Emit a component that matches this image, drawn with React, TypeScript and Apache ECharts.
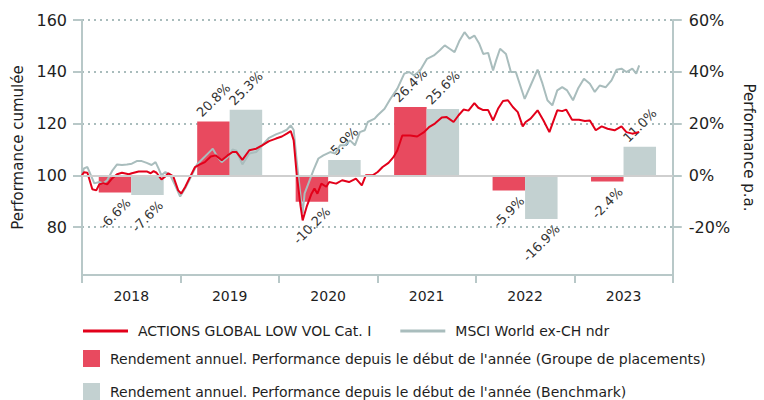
import React, { useEffect, useRef } from 'react';
import * as echarts from 'echarts';

const years = ['2018', '2019', '2020', '2021', '2022', '2023'];
const fundAnnual = [-6.6, 20.8, -10.2, 26.4, -5.9, -2.4];
const benchAnnual = [-7.6, 25.3, 5.9, 25.6, -16.9, 11.0];
const leftTicks = [80, 100, 120, 140, 160];
const rightTicks = [-20, 0, 20, 40, 60];

const FUND_LINE = 'ACTIONS GLOBAL LOW VOL Cat. I';
const BENCH_LINE = 'MSCI World ex-CH ndr';
const FUND_BAR = "Rendement annuel. Performance depuis le début de l'année (Groupe de placements)";
const BENCH_BAR = "Rendement annuel. Performance depuis le début de l'année (Benchmark)";

const fundCumulative: [number, number][] = [
  [2018.000, 100.0], [2018.020, 101.2], [2018.055, 101.0], [2018.105, 94.6], [2018.145, 94.2], [2018.175, 96.5],
  [2018.216, 97.0], [2018.256, 96.5], [2018.306, 98.8], [2018.356, 100.4], [2018.406, 101.0], [2018.476, 100.4],
  [2018.506, 100.8], [2018.576, 101.5], [2018.657, 101.5], [2018.697, 100.8], [2018.727, 101.6], [2018.757, 101.0],
  [2018.807, 98.4], [2018.847, 99.6], [2018.877, 100.8], [2018.927, 99.6], [2018.977, 94.2], [2019.008, 93.0],
  [2019.048, 95.5], [2019.098, 99.4], [2019.148, 103.2], [2019.198, 104.2], [2019.248, 105.1], [2019.308, 107.3],
  [2019.358, 107.7], [2019.419, 105.8], [2019.479, 107.7], [2019.529, 109.0], [2019.569, 109.0], [2019.629, 106.0],
  [2019.699, 109.7], [2019.769, 110.3], [2019.830, 111.6], [2019.900, 113.2], [2019.970, 114.2], [2020.030, 115.0],
  [2020.080, 116.1], [2020.120, 117.1], [2020.150, 113.5], [2020.180, 100.6], [2020.221, 87.8], [2020.241, 82.6],
  [2020.281, 87.8], [2020.331, 92.9], [2020.361, 94.9], [2020.391, 92.9], [2020.431, 96.8], [2020.481, 95.6],
  [2020.511, 97.4], [2020.581, 96.8], [2020.642, 98.1], [2020.712, 97.4], [2020.782, 98.7], [2020.842, 96.1],
  [2020.882, 100.0], [2020.952, 100.0], [2021.003, 101.3], [2021.053, 103.2], [2021.113, 104.8], [2021.163, 107.0],
  [2021.203, 109.7], [2021.253, 115.4], [2021.333, 115.4], [2021.404, 115.0], [2021.474, 116.7], [2021.524, 118.6],
  [2021.584, 120.0], [2021.654, 122.3], [2021.704, 122.5], [2021.774, 120.6], [2021.825, 123.2], [2021.875, 125.4],
  [2021.925, 125.0], [2021.985, 127.9], [2022.025, 126.1], [2022.075, 125.2], [2022.125, 125.2], [2022.175, 121.2],
  [2022.225, 125.7], [2022.276, 128.7], [2022.326, 129.0], [2022.376, 126.4], [2022.426, 124.4], [2022.476, 118.9],
  [2022.506, 120.6], [2022.556, 121.9], [2022.627, 125.1], [2022.687, 121.2], [2022.747, 116.7], [2022.827, 125.1],
  [2022.877, 124.8], [2022.917, 125.4], [2022.977, 121.5], [2023.048, 121.5], [2023.108, 121.0], [2023.158, 121.2],
  [2023.218, 117.4], [2023.278, 118.9], [2023.338, 118.0], [2023.409, 117.4], [2023.479, 118.9], [2023.529, 116.7],
  [2023.589, 116.1], [2023.659, 116.7],
];

const benchCumulative: [number, number][] = [
  [2018.000, 100.0], [2018.020, 102.7], [2018.055, 103.2], [2018.125, 96.9], [2018.175, 97.4], [2018.216, 96.9],
  [2018.256, 98.1], [2018.306, 101.7], [2018.356, 104.2], [2018.406, 104.0], [2018.456, 104.2], [2018.506, 104.5],
  [2018.556, 105.5], [2018.607, 105.5], [2018.657, 104.8], [2018.707, 104.0], [2018.747, 105.1], [2018.777, 102.7],
  [2018.807, 100.0], [2018.847, 101.3], [2018.897, 100.0], [2018.947, 96.0], [2018.997, 91.8], [2019.048, 95.0],
  [2019.098, 98.8], [2019.168, 104.2], [2019.228, 106.5], [2019.278, 108.4], [2019.328, 110.3], [2019.378, 107.0],
  [2019.419, 105.1], [2019.479, 107.0], [2019.529, 110.0], [2019.569, 109.5], [2019.629, 104.2], [2019.699, 108.4],
  [2019.769, 109.0], [2019.830, 111.6], [2019.900, 114.5], [2019.970, 115.8], [2020.030, 116.7], [2020.080, 117.6],
  [2020.120, 119.3], [2020.150, 117.5], [2020.180, 105.8], [2020.221, 91.6], [2020.241, 85.3], [2020.261, 93.0],
  [2020.301, 97.0], [2020.351, 102.0], [2020.401, 106.5], [2020.451, 107.7], [2020.521, 109.0], [2020.571, 108.4],
  [2020.622, 111.6], [2020.672, 111.6], [2020.722, 113.5], [2020.772, 111.6], [2020.822, 116.7], [2020.872, 117.4],
  [2020.902, 120.6], [2020.972, 121.9], [2021.003, 123.2], [2021.073, 125.7], [2021.133, 129.6], [2021.203, 133.5],
  [2021.273, 139.3], [2021.323, 139.9], [2021.373, 138.6], [2021.434, 140.5], [2021.504, 145.0], [2021.574, 146.3],
  [2021.634, 148.3], [2021.684, 150.2], [2021.734, 148.9], [2021.784, 147.6], [2021.835, 152.1], [2021.885, 155.3],
  [2021.935, 152.8], [2021.985, 154.0], [2022.035, 150.8], [2022.075, 146.9], [2022.125, 147.3], [2022.175, 140.5],
  [2022.206, 144.4], [2022.246, 148.9], [2022.306, 146.9], [2022.356, 139.9], [2022.406, 139.9], [2022.456, 134.1],
  [2022.496, 129.5], [2022.556, 134.7], [2022.627, 140.8], [2022.677, 135.4], [2022.727, 129.0], [2022.777, 127.0],
  [2022.827, 132.8], [2022.877, 134.1], [2022.927, 132.8], [2022.987, 129.0], [2023.038, 133.5], [2023.098, 137.3],
  [2023.158, 135.4], [2023.208, 132.2], [2023.258, 134.7], [2023.318, 134.0], [2023.378, 136.7], [2023.429, 140.8],
  [2023.479, 141.2], [2023.529, 139.9], [2023.589, 141.2], [2023.629, 139.3], [2023.659, 142.5],
];

const FONT = "'DejaVu Sans', Verdana, sans-serif";
const AXIS_COLOR = '#b8c8c8';
const TEXT_COLOR = '#1e1e1e';
const LINE_ICON = 'path://M0 0H45V3H0Z';

const fmtPct = (v: number) => v.toFixed(1) + '%';

const barItems = (vals: number[]) =>
  vals.map((v) => {
    const w = fmtPct(v).length * 7;
    return {
      value: v,
      label: { position: v < 0 ? 'bottom' : 'top', distance: 9 + 0.354 * w },
    };
  });

export default function App() {
  const ref = useRef<HTMLDivElement>(null);

  useEffect(() => {
    if (!ref.current) return;
    const chart = echarts.init(ref.current, undefined, { renderer: 'svg' });

    const barLabel = {
      show: true,
      rotate: 45,
      align: 'center',
      verticalAlign: 'middle',
      fontSize: 13,
      fontFamily: FONT,
      color: '#333',
      formatter: (p: any) => fmtPct(p.value),
    };

    const legendText = { fontSize: 14, color: TEXT_COLOR, fontFamily: FONT, padding: [0, 0, 0, 5] };

    chart.setOption({
      animation: false,
      textStyle: { fontFamily: FONT },
      grid: { left: 82, right: 84, top: 20, bottom: 125, containLabel: false },
      legend: [
        {
          data: [
            { name: FUND_LINE, icon: LINE_ICON },
            { name: BENCH_LINE, icon: LINE_ICON },
          ],
          left: 83,
          top: 324,
          orient: 'horizontal',
          itemWidth: 45,
          itemHeight: 3,
          itemGap: 29,
          padding: 0,
          textStyle: legendText,
          selectedMode: false,
        },
        {
          data: [FUND_BAR],
          left: 83,
          top: 350,
          itemWidth: 17,
          itemHeight: 17,
          padding: 0,
          icon: 'rect',
          textStyle: legendText,
          selectedMode: false,
        },
        {
          data: [BENCH_BAR],
          left: 83,
          top: 383,
          itemWidth: 17,
          itemHeight: 17,
          padding: 0,
          icon: 'rect',
          textStyle: legendText,
          selectedMode: false,
        },
      ],
      xAxis: [
        {
          type: 'category',
          data: years,
          position: 'bottom',
          boundaryGap: true,
          axisLine: { show: true, onZero: false, lineStyle: { color: AXIS_COLOR, width: 2 } },
          axisTick: { show: true, length: 8, lineStyle: { color: AXIS_COLOR, width: 2 } },
          axisLabel: { fontSize: 14, color: TEXT_COLOR, margin: 14, fontFamily: FONT },
          splitLine: { show: false },
        },
        {
          type: 'value',
          min: 2018,
          max: 2024,
          show: false,
          splitLine: { show: false },
        },
      ],
      yAxis: [
        {
          type: 'value',
          position: 'left',
          min: 61.5,
          max: 160,
          name: 'Performance cumulée',
          nameLocation: 'middle',
          nameRotate: 90,
          nameGap: 56,
          nameTextStyle: { fontSize: 15, color: TEXT_COLOR, fontFamily: FONT },
          axisLine: { show: true, lineStyle: { color: AXIS_COLOR, width: 2 } },
          axisTick: { show: true, length: 9, customValues: leftTicks, lineStyle: { color: AXIS_COLOR, width: 2 } },
          axisLabel: { fontSize: 16, color: TEXT_COLOR, margin: 15, customValues: leftTicks, fontFamily: FONT },
          splitLine: {
            show: true,
            lineStyle: { color: '#a9bcbc', width: 2, type: [2, 4] },
          },
        },
        {
          type: 'value',
          position: 'right',
          min: -38.5,
          max: 60,
          name: 'Performance p.a.',
          nameLocation: 'middle',
          nameRotate: -90,
          nameGap: 62,
          nameTextStyle: { fontSize: 15, color: TEXT_COLOR, fontFamily: FONT },
          axisLine: { show: true, lineStyle: { color: AXIS_COLOR, width: 2 } },
          axisTick: { show: true, length: 9, customValues: rightTicks, lineStyle: { color: AXIS_COLOR, width: 2 } },
          axisLabel: {
            fontSize: 16,
            color: TEXT_COLOR,
            margin: 16,
            customValues: rightTicks,
            fontFamily: FONT,
            formatter: '{value}%',
          },
          splitLine: { show: false },
        },
      ],
      series: [
        {
          name: FUND_BAR,
          type: 'bar',
          xAxisIndex: 0,
          yAxisIndex: 1,
          data: barItems(fundAnnual),
          barGap: '0%',
          barCategoryGap: '34%',
          itemStyle: { color: '#e84a5f' },
          label: barLabel,
        },
        {
          name: BENCH_BAR,
          type: 'bar',
          xAxisIndex: 0,
          yAxisIndex: 1,
          data: barItems(benchAnnual),
          barGap: '0%',
          barCategoryGap: '34%',
          itemStyle: { color: '#c3d1d1' },
          label: barLabel,
          markLine: {
            silent: true,
            symbol: 'none',
            label: { show: false },
            lineStyle: { color: '#cfcfcf', width: 2, type: 'solid' },
            data: [{ yAxis: 0 }],
          },
        },
        {
          name: BENCH_LINE,
          type: 'line',
          xAxisIndex: 1,
          yAxisIndex: 0,
          data: benchCumulative,
          symbol: 'none',
          lineStyle: { color: '#a9bdbd', width: 2 },
          itemStyle: { color: '#a9bdbd' },
        },
        {
          name: FUND_LINE,
          type: 'line',
          xAxisIndex: 1,
          yAxisIndex: 0,
          data: fundCumulative,
          symbol: 'none',
          lineStyle: { color: '#e2001a', width: 2 },
          itemStyle: { color: '#e2001a' },
        },
      ],
    });

    return () => chart.dispose();
  }, []);

  return (
    <div
      ref={ref}
      style={{ position: 'fixed', left: 0, top: 0, width: 764, height: 400, background: '#fff' }}
    />
  );
}
